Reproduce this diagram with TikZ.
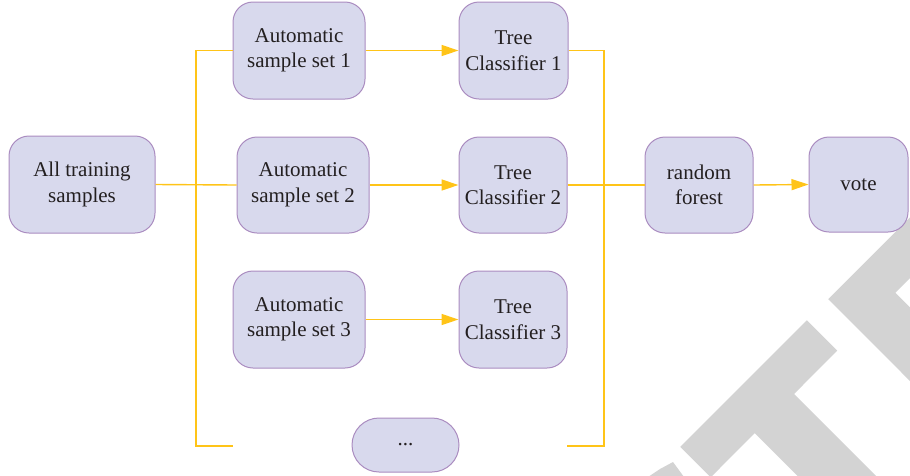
\documentclass[tikz,border=0pt]{standalone}
\usepackage{fontspec}
\setmainfont{Liberation Serif}
\usetikzlibrary{arrows.meta}
\definecolor{boxfill}{RGB}{216,217,237}
\definecolor{boxline}{RGB}{170,140,192}
\definecolor{flow}{RGB}{255,196,24}
\definecolor{ink}{RGB}{35,31,32}
\definecolor{lettergrey}{RGB}{211,211,211}
\tikzset{
  box/.style={draw=boxline, line width=1pt, fill=boxfill, rounded corners=20pt,
    inner sep=0pt, align=center, text=ink,
    font=\fontsize{21}{25.5}\selectfont},
  link/.style={draw=flow, line width=1.4pt},
  feed/.style={link, -{Triangle[length=17pt,width=11pt]}},
}
\begin{document}
\begin{tikzpicture}[x=1pt,y=-1pt]
\useasboundingbox (0,0) rectangle (910,475);

% grey lettering in the lower right corner
\begin{scope}
  \clip (0,0) rectangle (910,475);
  \fill[lettergrey] (680.3,446.9) -- (806.8,320.3) -- (837.2,350.7) -- (794.1,393.9)
    -- (907.2,507) -- (868,546.2) -- (754.8,433.1) -- (710.7,477.3) -- cycle;
  \fill[lettergrey] (828.2,299.1) -- (959.6,167.6) -- (990,198) -- (895.3,292.8)
    -- (1008.4,405.9) -- (971.6,442.7) -- cycle;
  \fill[lettergrey] (648,477) -- (660,469) -- (673,462) -- (684,477) -- cycle;
\end{scope}

% boxes
\node[box, minimum width=146pt, minimum height=97pt] (all) at (82,184.5) {All training\\samples};
\node[box, minimum width=132pt, minimum height=97pt] (a1) at (299,50.5) {Automatic\\sample set 1};
\node[box, minimum width=132pt, minimum height=96pt] (a2) at (303,185) {Automatic\\sample set 2};
\node[box, minimum width=132pt, minimum height=97pt] (a3) at (299,319.5) {Automatic\\sample set 3};
\node[box, minimum width=109pt, minimum height=97pt] (t1) at (513.5,50.5) {Tree\\Classifier 1};
\node[box, minimum width=108pt, minimum height=96pt] (t2) at (513,185) {Tree\\Classifier 2};
\node[box, minimum width=108pt, minimum height=97pt] (t3) at (513,319.5) {Tree\\Classifier 3};
\node[box, minimum width=108pt, minimum height=96pt] (rf) at (699,185) {random\\forest};
\node[box, minimum width=99pt, minimum height=95pt] (vote) at (858.5,184.5) {vote};
\node[box, minimum width=107pt, minimum height=54pt, rounded corners=27pt] (more) at (405.5,445) {...};

% free ends of the two brackets
\coordinate (lt) at (196,50.5);
\coordinate (lb) at (196,446);
\coordinate (le) at (233,446);
\coordinate (rt) at (604,50.5);
\coordinate (rb) at (604,446);
\coordinate (re) at (567,446);

% connectors
\draw[link] (a1.west) -- (lt) -- (lb) -- (le);
\draw[link] (t1.east) -- (rt) -- (rb) -- (re);
\draw[link] (all.east) -- (a2.west);
\draw[link] (t2.east) -- (rf.west);
\draw[feed] (a1.east) -- (t1.west);
\draw[feed] (a2.east) -- (t2.west);
\draw[feed] (a3.east) -- (t3.west);
\draw[feed] (rf.east) -- (vote.west);
\end{tikzpicture}
\end{document}
